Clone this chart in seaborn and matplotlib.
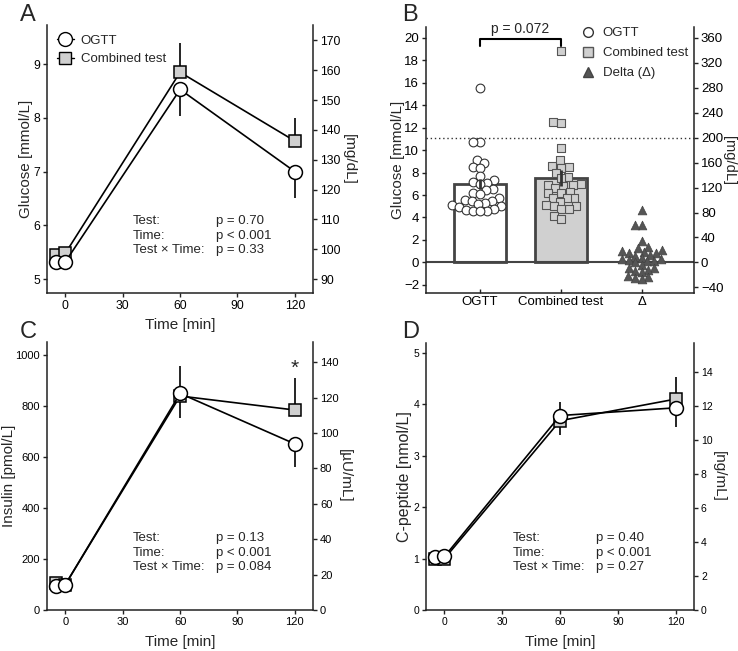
import matplotlib
matplotlib.use("Agg")
import matplotlib.pyplot as plt
from matplotlib.lines import Line2D
import seaborn as sns

sns.set_theme(style="ticks")
plt.rcParams["font.family"] = ["Liberation Sans", "DejaVu Sans"]

# time points (two fasting samples, then 60 and 120 min)
time = [-5, 0, 60, 120]

# panel A: glucose [mmol/L]
glu_ogtt = [5.32, 5.32, 8.53, 7.00]
glu_comb = [5.44, 5.48, 8.85, 7.57]
glu_ogtt_lo = [0.05, 0.05, 0.50, 0.49]
glu_comb_hi = [0.05, 0.05, 0.54, 0.43]

# panel C: insulin [pmol/L]
ins_ogtt = [95, 100, 850, 652]
ins_comb = [105, 100, 840, 785]
ins_ogtt_hi = [5, 5, 107, 0]
ins_ogtt_lo = [5, 5, 0, 90]
ins_comb_hi = [5, 5, 0, 127]
ins_comb_lo = [5, 5, 88, 0]

# panel D: C-peptide [nmol/L]
cp_ogtt = [1.03, 1.04, 3.78, 3.93]
cp_comb = [1.00, 1.00, 3.68, 4.10]
cp_ogtt_hi = [0.03, 0.03, 0.27, 0.0]
cp_ogtt_lo = [0.03, 0.03, 0.0, 0.37]
cp_comb_hi = [0.03, 0.03, 0.0, 0.42]
cp_comb_lo = [0.03, 0.03, 0.28, 0.0]

# panel B: 120-min glucose per participant
groups = ["OGTT", "Combined test", "Δ"]
b_ogtt = [15.5, 10.7, 10.7, 9.1, 8.9, 8.5, 8.4, 7.7, 7.3, 7.2, 7.1, 7.0, 6.5, 6.45,
          6.2, 6.1, 5.7, 5.6, 5.5, 5.5, 5.3, 5.2, 5.1, 5.0, 4.9, 4.8, 4.7, 4.6, 4.6, 4.6]
b_comb = [18.85, 12.55, 12.45, 10.2, 9.1, 8.55, 8.5, 8.45, 8.0, 7.65, 7.5, 7.0, 6.9,
          6.9, 6.8, 6.6, 6.3, 6.2, 6.15, 5.75, 5.75, 5.7, 5.4, 5.1, 5.05, 5.0, 4.8,
          4.75, 4.15, 3.85]
b_delta = [4.65, 3.35, 3.35, 1.9, 1.4, 1.3, 1.1, 1.0, 0.95, 0.85, 0.85, 0.65, 0.6,
           0.4, 0.3, 0.3, 0.2, 0.1, 0.1, 0.0, -0.2, -0.5, -0.5, -0.65, -0.75, -0.9,
           -1.2, -1.3, -1.4, -1.5]
bar_groups = ["OGTT", "Combined test"]
bar_means = [6.95, 7.50]
bar_sem = [0.45, 0.7]

stats_a = ["p = 0.70", "p < 0.001", "p = 0.33"]
stats_c = ["p = 0.13", "p < 0.001", "p = 0.084"]
stats_d = ["p = 0.40", "p < 0.001", "p = 0.27"]
stat_names = ["Test:", "Time:", "Test × Time:"]

GREY = "#d0d0d0"
W, H = 738, 651


def box(l, t, r, b):
    return [l / W, 1 - b / H, (r - l) / W, (b - t) / H]


fig = plt.figure(figsize=(W / 100, H / 100), dpi=100)
axA = fig.add_axes(box(47, 25, 313, 293))
axB = fig.add_axes(box(426, 27, 694, 293))
axC = fig.add_axes(box(47, 342, 313, 610))
axD = fig.add_axes(box(426, 343, 694, 610))


def place_ylabel(ax, x):
    lab = ax.yaxis.label
    lab.set_rotation_mode("anchor")
    lab.set_ha("center")
    lab.set_va("center")
    ax.yaxis.set_label_coords(x, 0.5)


def style(ax, lim, factor, rticks, rlabel, lx, rx, fs=8, rfs=11):
    ax.spines["top"].set_visible(False)
    ax.spines["right"].set_visible(False)
    for s in ["left", "bottom"]:
        ax.spines[s].set_linewidth(1.1)
        ax.spines[s].set_color("#222")
    ax.tick_params(direction="out", length=3, width=1, labelsize=fs, colors="#222",
                   labelcolor="black", pad=2)
    ax.set_ylim(*lim)
    place_ylabel(ax, lx)
    axr = ax.twinx()
    axr.set_ylim(lim[0] * factor, lim[1] * factor)
    axr.set_yticks(rticks)
    axr.spines["top"].set_visible(False)
    axr.spines["left"].set_visible(False)
    axr.spines["bottom"].set_visible(False)
    axr.spines["right"].set_linewidth(1.1)
    axr.spines["right"].set_color("#222")
    axr.tick_params(direction="out", length=3, width=1, labelsize=fs, colors="#222",
                    labelcolor="black", pad=2)
    axr.set_ylabel(rlabel, rotation=270, fontsize=rfs)
    place_ylabel(axr, rx)
    return axr


def line_panel(ax, og, cb, og_err, cb_err, stats):
    ax.errorbar(time, cb, yerr=cb_err, fmt="none", ecolor="black", elinewidth=1.2,
                capsize=0, zorder=2)
    ax.errorbar(time, og, yerr=og_err, fmt="none", ecolor="black", elinewidth=1.2,
                capsize=0, zorder=2)
    sns.lineplot(x=time, y=cb, ax=ax, color="black", linewidth=1.2, marker="s",
                 markersize=8.5, markerfacecolor=GREY, markeredgecolor="black",
                 markeredgewidth=1.1, zorder=3)
    sns.lineplot(x=time, y=og, ax=ax, color="black", linewidth=1.2, marker="o",
                 markersize=10, markerfacecolor="white", markeredgecolor="black",
                 markeredgewidth=1.1, zorder=4)
    ax.set_xlim(-9.6, 129.5)
    ax.set_xticks([0, 30, 60, 90, 120])
    ax.set_xlabel("Time [min]", fontsize=11)
    ax.xaxis.label.set_va("center")
    ax.xaxis.set_label_coords(0.5, -0.118)
    for i, (n, p) in enumerate(zip(stat_names, stats)):
        y = 0.269 - i * 0.0545
        ax.text(0.323, y, n, transform=ax.transAxes, fontsize=9.5, va="center")
        ax.text(0.636, y, p, transform=ax.transAxes, fontsize=9.5, va="center")


# ---- A
line_panel(axA, glu_ogtt, glu_comb, [glu_ogtt_lo, [0] * 4], [[0] * 4, glu_comb_hi], stats_a)
axA.set_yticks([5, 6, 7, 8, 9])
axA.set_ylabel("Glucose [mmol/L]", fontsize=11)
style(axA, (4.74, 9.73), 18, range(90, 171, 10), "[mg/dL]", -0.079, 1.135, fs=8.7)
hA = [Line2D([], [], color="black", lw=1, marker="o", ms=10, mfc="white", mec="black"),
      Line2D([], [], color="black", lw=1, marker="s", ms=8.5, mfc=GREY, mec="black")]
axA.legend(hA, ["OGTT", "Combined test"], loc="upper left", bbox_to_anchor=(0.017, 0.985),
           borderaxespad=0, frameon=False, fontsize=9.5, handlelength=1.3,
           handletextpad=0.5, labelspacing=0.5)

# ---- C
line_panel(axC, ins_ogtt, ins_comb, [ins_ogtt_lo, ins_ogtt_hi], [ins_comb_lo, ins_comb_hi], stats_c)
axC.set_yticks(range(0, 1001, 200))
axC.set_ylabel("Insulin [pmol/L]", fontsize=11)
style(axC, (0, 1052), 1 / 6.945, range(0, 141, 20), "[µU/mL]", -0.143, 1.12)
axC.text(120, 950, "*", fontsize=15, ha="center", va="center")

# ---- D
line_panel(axD, cp_ogtt, cp_comb, [cp_ogtt_lo, cp_ogtt_hi], [cp_comb_lo, cp_comb_hi], stats_d)
axD.set_yticks(range(0, 6))
axD.set_ylabel("C-peptide [nmol/L]", fontsize=11.5)
style(axD, (0, 5.19), 3.02, range(0, 15, 2), "[ng/mL]", -0.080, 1.093, fs=7.5)

# ---- B
sns.barplot(x=bar_groups, y=bar_means, hue=bar_groups, order=groups, hue_order=bar_groups,
            palette=["white", GREY], legend=False, width=0.65, edgecolor="#444",
            linewidth=2, errorbar=None, ax=axB, zorder=1)
axB.axhline(0, color="#444", lw=1.5, zorder=1.5)
axB.axhline(11.1, color="#333", lw=1, ls=(0, (1, 2)), zorder=1)
n_before = len(axB.collections)
sns.swarmplot(x=["OGTT"] * len(b_ogtt), y=b_ogtt, order=groups, ax=axB, marker="o",
              color="white", edgecolor="#333", linewidth=0.8, size=4.2, zorder=3)
sns.swarmplot(x=["Combined test"] * len(b_comb), y=b_comb, order=groups, ax=axB,
              marker="s", color=GREY, edgecolor="#555", linewidth=0.8, size=4.5, zorder=3)
sns.swarmplot(x=["Δ"] * len(b_delta), y=b_delta, order=groups, ax=axB, marker="^",
              color="#555", edgecolor="#444", linewidth=0.5, size=4.2, zorder=3)
axB.set_xlim(-0.67, 2.65)
axB.set_ylim(-2.73, 20.98)
# lay out the swarms with small markers, freeze them, then enlarge the markers
fig.canvas.draw()
for coll in axB.collections[n_before:]:
    if "draw" in coll.__dict__:
        del coll.draw
    coll.set_sizes([6.3 ** 2])
axB.errorbar([0, 1], bar_means, yerr=bar_sem, fmt="none", ecolor="#333", elinewidth=2,
             capsize=0, zorder=5)
axB.plot([0, 0, 1, 1], [19.3, 19.9, 19.9, 19.3], color="black", lw=1.5)
axB.text(0.5, 20.2, "p = 0.072", ha="center", va="bottom", fontsize=10)
axB.set_yticks(range(-2, 21, 2))
axB.set_xlabel("")
axB.set_ylabel("Glucose [mmol/L]", fontsize=11)
style(axB, (-2.73, 20.98), 18, range(-40, 361, 40), "[mg/dL]", -0.106, 1.132, fs=9.5,
      rfs=10.5)
axB.tick_params(axis="x", direction="in", labelsize=9.5)
hB = [Line2D([], [], ls="", marker="o", ms=7, mfc="white", mec="#333"),
      Line2D([], [], ls="", marker="s", ms=7, mfc=GREY, mec="#555"),
      Line2D([], [], ls="", marker="^", ms=7, mfc="#555", mec="#444")]
axB.legend(hB, ["OGTT", "Combined test", "Delta (Δ)"], loc="upper left",
           bbox_to_anchor=(0.536, 1.045), frameon=False, fontsize=9.5, handlelength=1.0,
           handletextpad=0.6, labelspacing=0.6)

for letter, x, y in [("A", 20, 4), ("B", 402, 4), ("C", 20, 321), ("D", 402, 321)]:
    fig.text(x / W, 1 - y / H, letter, fontsize=17, va="top", ha="left")

fig.savefig("out.png", dpi=100)
